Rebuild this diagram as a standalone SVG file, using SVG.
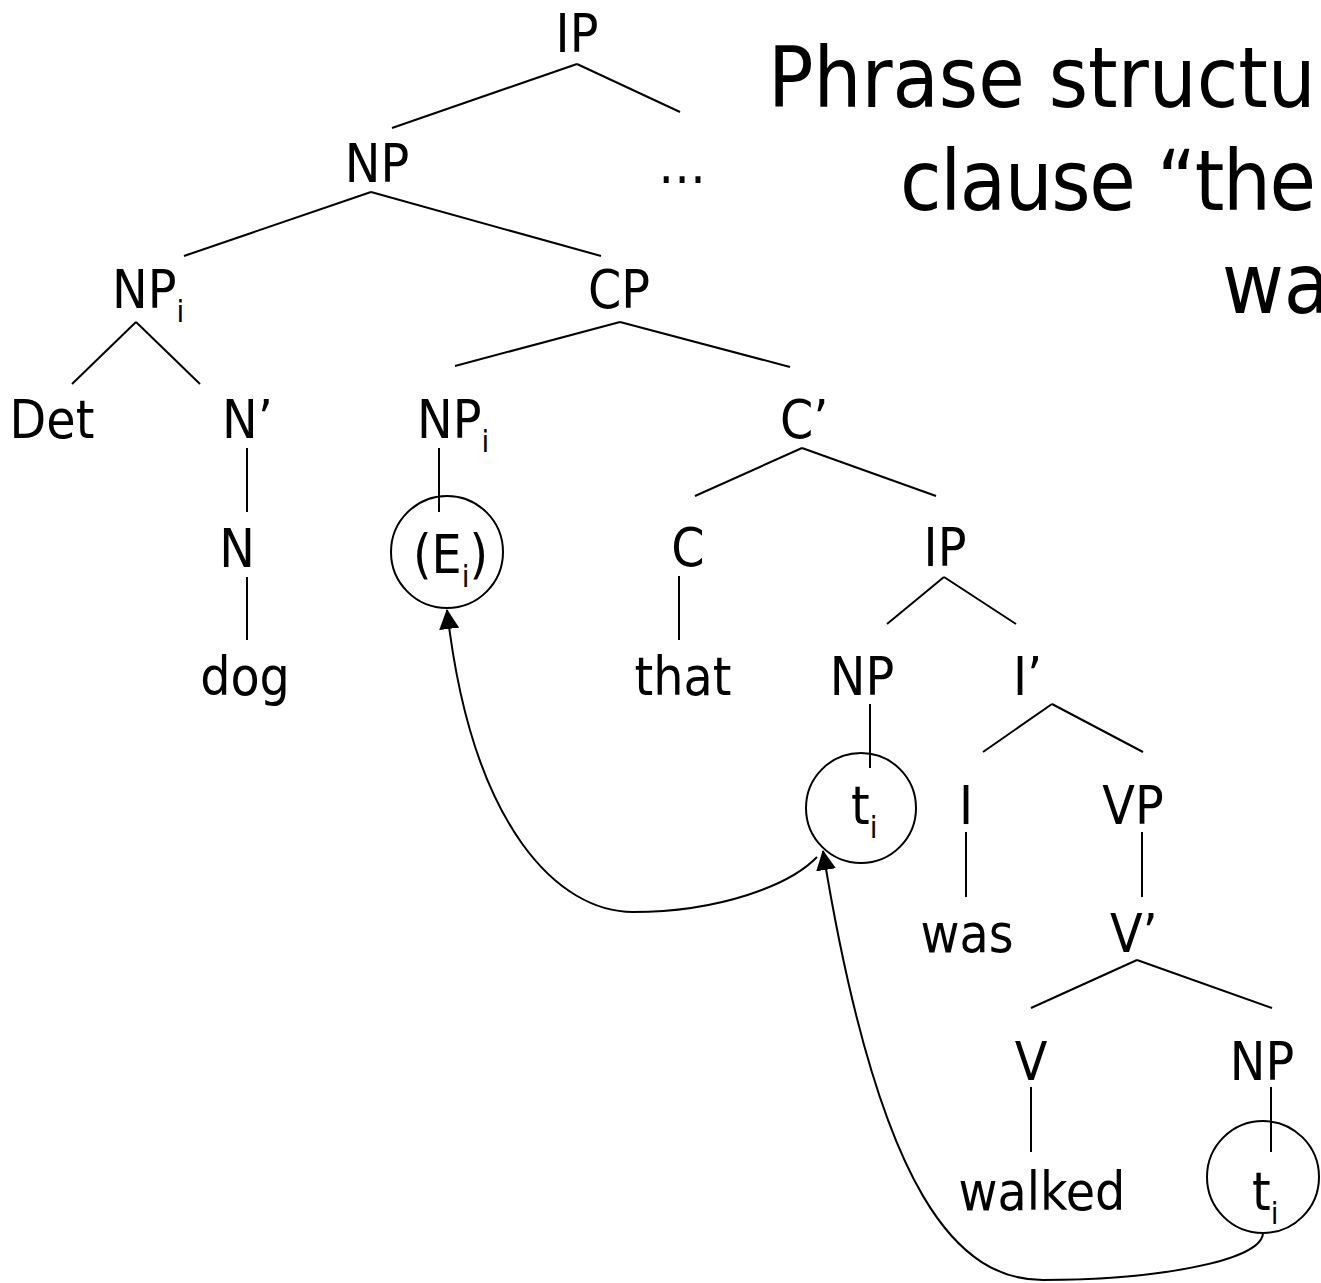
<svg xmlns="http://www.w3.org/2000/svg" width="1321" height="1283" viewBox="0 0 1321 1283">
<defs>
<style>
text{font-family:"DejaVu Sans Condensed","DejaVu Sans",sans-serif;font-stretch:condensed;fill:#000}
.lbl{font-size:53px}
.mid{text-anchor:middle}
.sub{font-size:31px}
.title{font-size:84px}
.edge{stroke:#000;stroke-width:2;fill:none}
.ring{stroke:#000;stroke-width:2;fill:none}
.arrow{stroke:#000;stroke-width:2;fill:none;marker-end:url(#ah)}
</style>
<marker id="ah" markerUnits="userSpaceOnUse" markerWidth="20" markerHeight="20" refX="19" refY="10" orient="auto" viewBox="0 0 20 20">
<path d="M0,0 L20,10 L0,20 z" fill="#000"/>
</marker>
</defs>
<rect width="1321" height="1283" fill="#fff"/>

<g id="title">
<text class="title" x="768" y="107">Phrase structur</text>
<text class="title" x="900" y="210" textLength="416" lengthAdjust="spacing">clause “the</text>
<text class="title" x="1222" y="313">wa</text>
</g>

<g id="connectors">
<line class="edge" x1="577" y1="64" x2="392" y2="128"/>
<line class="edge" x1="577" y1="64" x2="680" y2="112"/>
<line class="edge" x1="371" y1="192" x2="184" y2="256"/>
<line class="edge" x1="371" y1="192" x2="601" y2="256"/>
<line class="edge" x1="136" y1="322" x2="72" y2="384"/>
<line class="edge" x1="136" y1="322" x2="200" y2="384"/>
<line class="edge" x1="620" y1="322" x2="455" y2="366"/>
<line class="edge" x1="620" y1="322" x2="790" y2="367"/>
<line class="edge" x1="247" y1="448" x2="247" y2="512"/>
<line class="edge" x1="247" y1="577" x2="247" y2="640"/>
<line class="edge" x1="439" y1="448" x2="439" y2="512"/>
<line class="edge" x1="802" y1="448" x2="695" y2="496"/>
<line class="edge" x1="802" y1="448" x2="936" y2="496"/>
<line class="edge" x1="679" y1="576" x2="679" y2="640"/>
<line class="edge" x1="944" y1="577" x2="887" y2="624"/>
<line class="edge" x1="944" y1="577" x2="1016" y2="624"/>
<line class="edge" x1="870" y1="704" x2="870" y2="768"/>
<line class="edge" x1="1052" y1="704" x2="983" y2="752"/>
<line class="edge" x1="1052" y1="704" x2="1143" y2="752"/>
<line class="edge" x1="966" y1="832" x2="966" y2="897"/>
<line class="edge" x1="1142" y1="832" x2="1142" y2="897"/>
<line class="edge" x1="1137" y1="960" x2="1031" y2="1008"/>
<line class="edge" x1="1137" y1="960" x2="1272" y2="1008"/>
<line class="edge" x1="1031" y1="1087" x2="1031" y2="1152"/>
<line class="edge" x1="1271" y1="1087" x2="1271" y2="1152"/>
<path class="arrow" d="M817,857 C790,885 720,912 633,912 C560,912 472,830 447,610"/>
<path class="arrow" d="M1263,1233 C1262,1262 1150,1280 1043,1280 C960,1280 880,1200 823,851"/>
</g>

<g id="n-ip"><text class="lbl mid" x="577" y="52">IP</text></g>
<g id="n-np"><text class="lbl mid" x="377" y="182">NP</text></g>
<g id="n-ellipsis"><text class="lbl mid" x="682" y="183">…</text></g>
<g id="n-npi"><text class="lbl" x="112" y="308">NP<tspan class="sub" dy="14">i</tspan></text></g>
<g id="n-cp"><text class="lbl mid" x="619" y="308">CP</text></g>
<g id="n-det"><text class="lbl mid" x="52" y="438">Det</text></g>
<g id="n-nbar"><text class="lbl" x="222" y="438">N’</text></g>
<g id="n-npi2"><text class="lbl" x="417" y="438">NP<tspan class="sub" dy="14">i</tspan></text></g>
<g id="n-cbar"><text class="lbl" x="780" y="438">C’</text></g>
<g id="n-n"><text class="lbl mid" x="237" y="567">N</text></g>
<g id="n-ei"><circle class="ring" cx="447" cy="552" r="56"/><text class="lbl" x="413" y="573">(E<tspan class="sub" dy="14">i</tspan><tspan dy="-14">)</tspan></text></g>
<g id="n-c"><text class="lbl mid" x="688" y="566">C</text></g>
<g id="n-ip2"><text class="lbl mid" x="945" y="566">IP</text></g>
<g id="n-dog"><text class="lbl mid" x="245" y="695">dog</text></g>
<g id="n-that"><text class="lbl mid" x="683" y="695">that</text></g>
<g id="n-np2"><text class="lbl mid" x="862" y="695">NP</text></g>
<g id="n-ibar"><text class="lbl" x="1013" y="695">I’</text></g>
<g id="n-t1"><circle class="ring" cx="861" cy="808" r="55"/><text class="lbl" x="851" y="824">t<tspan class="sub" dy="14">i</tspan></text></g>
<g id="n-i"><text class="lbl mid" x="966" y="824">I</text></g>
<g id="n-vp"><text class="lbl mid" x="1133" y="824">VP</text></g>
<g id="n-was"><text class="lbl mid" x="967" y="952">was</text></g>
<g id="n-vbar"><text class="lbl" x="1110" y="952">V’</text></g>
<g id="n-v"><text class="lbl mid" x="1031" y="1080">V</text></g>
<g id="n-np3"><text class="lbl mid" x="1262" y="1080">NP</text></g>
<g id="n-walked"><text class="lbl mid" x="1042" y="1210">walked</text></g>
<g id="n-t2"><circle class="ring" cx="1263" cy="1177" r="56"/><text class="lbl" x="1252" y="1210">t<tspan class="sub" dy="14">i</tspan></text></g>
</svg>
